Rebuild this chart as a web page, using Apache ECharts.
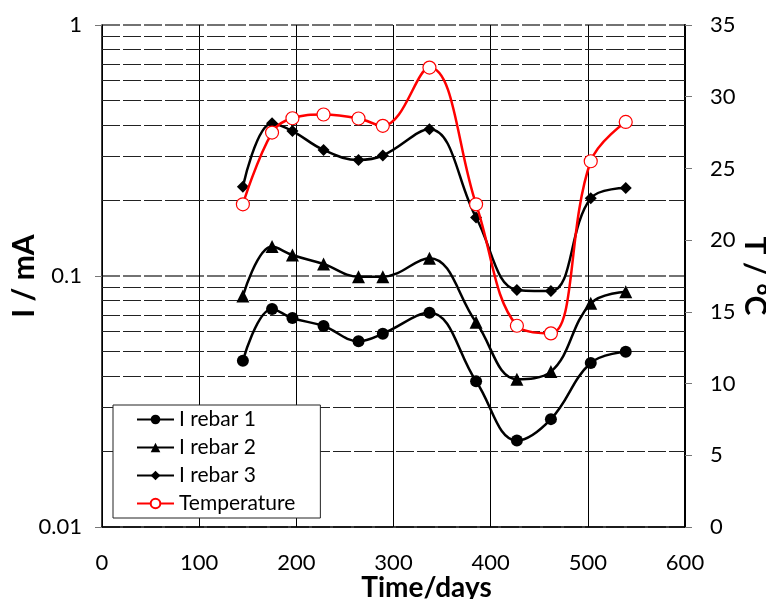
<!DOCTYPE html>
<html>
<head>
<meta charset="utf-8">
<script src="https://cdn.jsdelivr.net/npm/echarts@6/dist/echarts.min.js"></script>
<style>
  html, body { margin: 0; padding: 0; background: #fff; }
  #main { width: 766px; height: 599px; }
</style>
</head>
<body>
<div id="main"></div>
<script>
// 数据
var days = [145, 175, 196, 228, 264, 289, 337, 385, 427, 462, 503, 539]
var rebar1 = [0.046, 0.0739, 0.068, 0.0632, 0.055, 0.0589, 0.0714, 0.0381, 0.0221, 0.0269, 0.045, 0.0499]
var rebar2 = [0.0832, 0.131, 0.1212, 0.1116, 0.0994, 0.0994, 0.1177, 0.0654, 0.0388, 0.0416, 0.0778, 0.0866]
var rebar3 = [0.227, 0.406, 0.378, 0.318, 0.29, 0.302, 0.384, 0.171, 0.088, 0.0871, 0.204, 0.224]
var temperature = [22.5, 27.5, 28.5, 28.76, 28.48, 27.97, 32.03, 22.5, 14.03, 13.5, 25.5, 28.24]
// 对数轴的次网格线
var minorGrid = [0.02, 0.03, 0.04, 0.05, 0.06, 0.07, 0.08, 0.09, 0.2, 0.3, 0.4, 0.5, 0.6, 0.7, 0.8, 0.9]

function pairs(ys) {
  return days.map(function (d, i) { return [d, ys[i]] })
}

var font = 'Lato, "Open Sans", sans-serif'
var dash = [18, 3]

var myChart = echarts.init(document.getElementById('main'))
var option = {
  animation: false,
  grid: { left: 102, right: 81, top: 25, bottom: 72, outerBoundsMode: 'none', containLabel: false },
  legend: {
    orient: 'vertical',
    left: 113,
    top: 405,
    padding: [4, 25, 4, 23],
    itemGap: 7,
    itemWidth: 37,
    itemHeight: 12,
    backgroundColor: '#fff',
    borderColor: '#222',
    borderWidth: 1,
    textStyle: { fontFamily: font, fontSize: 21, color: '#000' },
    data: ['I rebar 1', 'I rebar 2', 'I rebar 3', 'Temperature'],
  },
  xAxis: {
    type: 'value',
    min: 0,
    max: 600,
    interval: 100,
    name: 'Time/days',
    nameLocation: 'middle',
    nameGap: 47,
    nameMoveOverlap: false,
    nameTextStyle: { fontFamily: font, fontSize: 28, fontWeight: 'bold', color: '#000', padding: [0, 0, 0, 66] },
    axisLine: { show: true, lineStyle: { color: '#000', width: 1.5 } },
    axisTick: { show: false },
    axisLabel: { fontFamily: font, fontSize: 22, color: '#000', margin: 25 },
    splitLine: { show: true, lineStyle: { color: '#000', width: 1 } },
  },
  yAxis: [
    {
      type: 'log',
      logBase: 10,
      min: 0.01,
      max: 1,
      name: 'I / mA',
      nameLocation: 'middle',
      nameRotate: 90,
      nameGap: 63,
      nameMoveOverlap: false,
      nameTextStyle: { fontFamily: font, fontSize: 30, fontWeight: 'bold', color: '#000' },
      axisLine: { show: true, lineStyle: { color: '#000', width: 1.5 } },
      axisTick: { show: true, length: 7, lineStyle: { color: '#777' } },
      axisLabel: { fontFamily: font, fontSize: 22, color: '#000', margin: 20 },
      splitLine: { show: true, lineStyle: { color: '#444', width: 1.5, type: dash } },
    },
    {
      type: 'value',
      min: 0,
      max: 35,
      interval: 5,
      position: 'right',
      name: 'T / °C',
      nameLocation: 'middle',
      nameRotate: -90,
      nameGap: 55,
      nameMoveOverlap: false,
      nameTextStyle: { fontFamily: font, fontSize: 30, fontWeight: 'bold', color: '#000' },
      axisLine: { show: true, lineStyle: { color: '#000', width: 2 } },
      axisTick: { show: true, length: 7, lineStyle: { color: '#777' } },
      axisLabel: { fontFamily: font, fontSize: 22, color: '#000', margin: 25 },
      splitLine: { show: false },
    },
  ],
  series: [
    {
      name: 'I rebar 1',
      type: 'line',
      yAxisIndex: 0,
      smooth: 0.4,
      data: pairs(rebar1),
      symbol: 'circle',
      symbolSize: 12,
      lineStyle: { color: '#000', width: 2.5 },
      itemStyle: { color: '#000' },
      z: 3,
      markLine: {
        silent: true,
        symbol: 'none',
        label: { show: false },
        lineStyle: { color: '#222', width: 1, type: dash },
        emphasis: { disabled: true },
        data: minorGrid.map(function (v) { return { yAxis: v } }),
        z: 1,
      },
    },
    {
      name: 'I rebar 2',
      type: 'line',
      yAxisIndex: 0,
      smooth: 0.4,
      data: pairs(rebar2),
      symbol: 'triangle',
      symbolSize: 13,
      lineStyle: { color: '#000', width: 2.5 },
      itemStyle: { color: '#000' },
      z: 3,
    },
    {
      name: 'I rebar 3',
      type: 'line',
      yAxisIndex: 0,
      smooth: 0.4,
      data: pairs(rebar3),
      symbol: 'diamond',
      symbolSize: 12,
      lineStyle: { color: '#000', width: 2.5 },
      itemStyle: { color: '#000' },
      z: 3,
    },
    {
      name: 'Temperature',
      type: 'line',
      yAxisIndex: 1,
      smooth: 0.4,
      data: pairs(temperature),
      symbol: 'circle',
      symbolSize: 13,
      lineStyle: { color: '#ff0000', width: 2.5 },
      itemStyle: { color: '#fff', borderColor: '#ff0000', borderWidth: 1.2 },
      z: 4,
    },
  ],
}
myChart.setOption(option)
</script>
</body>
</html>
